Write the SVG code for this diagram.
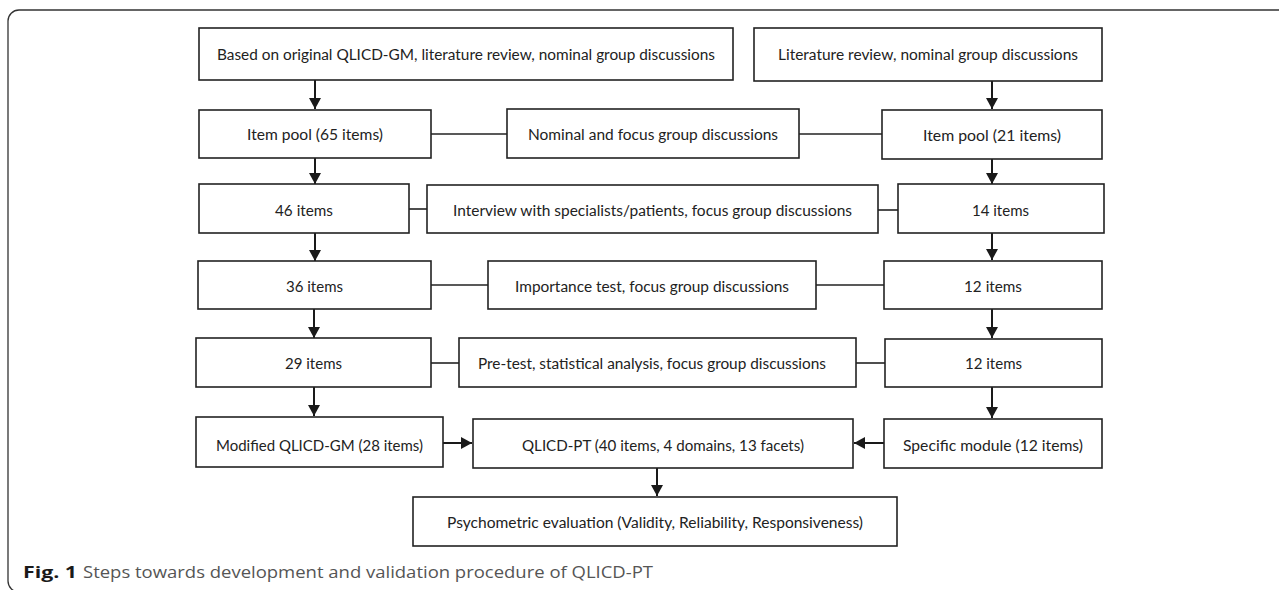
<svg xmlns="http://www.w3.org/2000/svg" width="1279" height="590" viewBox="0 0 1279 590">
<defs>
<marker id="ah" markerUnits="userSpaceOnUse" markerWidth="12" markerHeight="12" refX="11" refY="6" orient="auto">
<path d="M0,0 L11,6 L0,12 Z" fill="#1a1a1a"/>
</marker>
<style>
.box{fill:#fff;stroke:#222;stroke-width:1.6}
.t{font-family:Lato,"Liberation Sans",sans-serif;font-size:15.5px;fill:#222;text-anchor:middle}
.ln{stroke:#222;stroke-width:1.6;fill:none}
.ar{stroke:#1a1a1a;stroke-width:2;fill:none;marker-end:url(#ah)}
.cap{font-family:"Open Sans","Liberation Sans",sans-serif;font-size:16px}
</style>
</defs>
<rect width="1279" height="590" fill="#fff"/>
<rect x="8" y="10" width="1300" height="582" rx="11" fill="none" stroke="#333" stroke-width="1.3"/>

<g id="connectors">
<line class="ar" x1="315" y1="80" x2="315" y2="109"/>
<line class="ar" x1="315" y1="158" x2="315" y2="184"/>
<line class="ar" x1="315" y1="233" x2="315" y2="261"/>
<line class="ar" x1="314" y1="309" x2="314" y2="338"/>
<line class="ar" x1="314" y1="387" x2="314" y2="416"/>
<line class="ar" x1="992" y1="81" x2="992" y2="109"/>
<line class="ar" x1="992" y1="159" x2="992" y2="184"/>
<line class="ar" x1="992" y1="233" x2="992" y2="260"/>
<line class="ar" x1="992" y1="309" x2="992" y2="338"/>
<line class="ar" x1="992" y1="387" x2="992" y2="418"/>
<line class="ln" x1="431" y1="134" x2="507" y2="134"/>
<line class="ln" x1="799" y1="134" x2="882" y2="134"/>
<line class="ln" x1="409" y1="209" x2="427" y2="209"/>
<line class="ln" x1="878" y1="210" x2="898" y2="210"/>
<line class="ln" x1="431" y1="285" x2="488" y2="285"/>
<line class="ln" x1="816" y1="285" x2="884" y2="285"/>
<line class="ln" x1="431" y1="363" x2="459" y2="363"/>
<line class="ln" x1="856" y1="363" x2="885" y2="363"/>
<line class="ar" x1="443" y1="443" x2="472" y2="443"/>
<line class="ar" x1="884" y1="443" x2="854" y2="443"/>
<line class="ar" x1="657" y1="468" x2="657" y2="496"/>
</g>

<g id="n1"><rect class="box" x="199" y="28" width="534" height="52"/><text class="t" x="466" y="60" textLength="498" lengthAdjust="spacingAndGlyphs">Based on original QLICD-GM, literature review, nominal group discussions</text></g>
<g id="n2"><rect class="box" x="754" y="28" width="348" height="53"/><text class="t" x="928" y="60" textLength="300" lengthAdjust="spacingAndGlyphs">Literature review, nominal group discussions</text></g>
<g id="n3"><rect class="box" x="199" y="110" width="232" height="48"/><text class="t" x="315" y="140" textLength="136" lengthAdjust="spacingAndGlyphs">Item pool (65 items)</text></g>
<g id="n4"><rect class="box" x="507" y="109" width="292" height="49"/><text class="t" x="653" y="140" textLength="250" lengthAdjust="spacingAndGlyphs">Nominal and focus group discussions</text></g>
<g id="n5"><rect class="box" x="882" y="110" width="220" height="49"/><text class="t" x="992" y="141" textLength="138" lengthAdjust="spacingAndGlyphs">Item pool (21 items)</text></g>
<g id="n6"><rect class="box" x="199" y="184" width="210" height="49"/><text class="t" x="304" y="216" textLength="58" lengthAdjust="spacingAndGlyphs">46 items</text></g>
<g id="n7"><rect class="box" x="427" y="185" width="451" height="48"/><text class="t" x="652.5" y="216" textLength="399" lengthAdjust="spacingAndGlyphs">Interview with specialists/patients, focus group discussions</text></g>
<g id="n8"><rect class="box" x="898" y="184" width="206" height="49"/><text class="t" x="1000.5" y="216" textLength="57" lengthAdjust="spacingAndGlyphs">14 items</text></g>
<g id="n9"><rect class="box" x="198" y="261" width="233" height="48"/><text class="t" x="314.5" y="292" textLength="57" lengthAdjust="spacingAndGlyphs">36 items</text></g>
<g id="n10"><rect class="box" x="488" y="261" width="328" height="48"/><text class="t" x="652" y="292" textLength="274" lengthAdjust="spacingAndGlyphs">Importance test, focus group discussions</text></g>
<g id="n11"><rect class="box" x="884" y="261" width="218" height="48"/><text class="t" x="993" y="292" textLength="58" lengthAdjust="spacingAndGlyphs">12 items</text></g>
<g id="n12"><rect class="box" x="196" y="338" width="235" height="49"/><text class="t" x="313.5" y="369" textLength="57" lengthAdjust="spacingAndGlyphs">29 items</text></g>
<g id="n13"><rect class="box" x="459" y="338" width="397" height="49"/><text class="t" x="652" y="369" textLength="348" lengthAdjust="spacingAndGlyphs">Pre-test, statistical analysis, focus group discussions</text></g>
<g id="n14"><rect class="box" x="885" y="339" width="217" height="48"/><text class="t" x="993.5" y="369" textLength="57" lengthAdjust="spacingAndGlyphs">12 items</text></g>
<g id="n15"><rect class="box" x="196" y="417" width="247" height="50"/><text class="t" x="319.5" y="451" textLength="207" lengthAdjust="spacingAndGlyphs">Modified QLICD-GM (28 items)</text></g>
<g id="n16"><rect class="box" x="473" y="419" width="380" height="49"/><text class="t" x="663" y="451" textLength="282" lengthAdjust="spacingAndGlyphs">QLICD-PT (40 items, 4 domains, 13 facets)</text></g>
<g id="n17"><rect class="box" x="884" y="419" width="218" height="49"/><text class="t" x="993" y="451" textLength="180" lengthAdjust="spacingAndGlyphs">Specific module (12 items)</text></g>
<g id="n18"><rect class="box" x="413" y="497" width="484" height="49"/><text class="t" x="655" y="528" textLength="416" lengthAdjust="spacingAndGlyphs">Psychometric evaluation (Validity, Reliability, Responsiveness)</text></g>

<g id="caption">
<text class="cap" x="23" y="578" font-weight="bold" fill="#1a1a1a" textLength="54" lengthAdjust="spacingAndGlyphs">Fig. 1</text>
<text class="cap" x="83" y="578" fill="#555" textLength="570" lengthAdjust="spacingAndGlyphs">Steps towards development and validation procedure of QLICD-PT</text>
</g>
</svg>
